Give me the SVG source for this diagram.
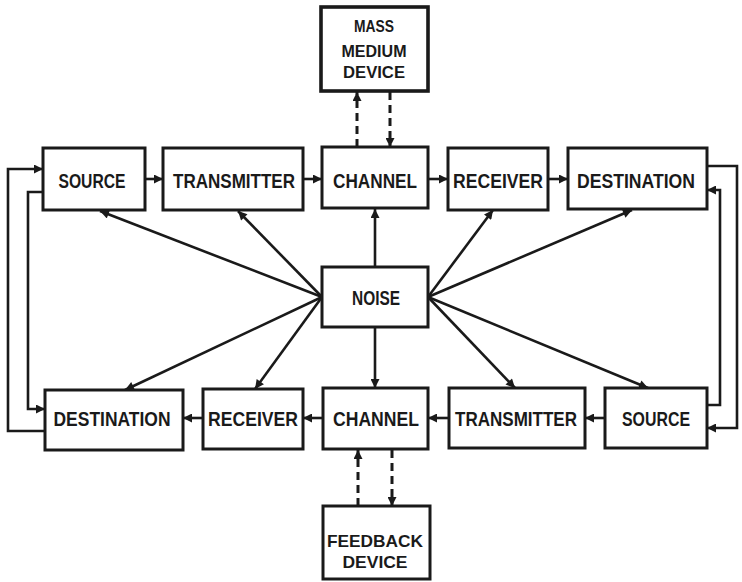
<svg xmlns="http://www.w3.org/2000/svg" width="742" height="582" viewBox="0 0 742 582">
<style>
.box{fill:#fff;stroke:#1a1a1a;stroke-width:3}
.thick{stroke-width:3.6}
.lbl{font-family:"Liberation Sans","DejaVu Sans",Arial,sans-serif;font-weight:bold;font-size:20px;fill:#1a1a1a;text-anchor:middle}
.sm{font-size:17px}
.ln{fill:none;stroke:#1a1a1a;stroke-width:2.6;marker-end:url(#ah)}
.dash{stroke-dasharray:8 5;stroke-width:3}
</style>
<defs>
<marker id="ah" viewBox="0 0 10 10" refX="10" refY="5" markerWidth="10" markerHeight="9" markerUnits="userSpaceOnUse" orient="auto">
<path d="M0,0 L10,5 L0,10 Z" fill="#1a1a1a"/>
</marker>
</defs>
<rect width="742" height="582" fill="#fff"/>
<g id="connectors">
<!-- top row -->
<line class="ln" x1="145" y1="179" x2="163" y2="179"/>
<line class="ln" x1="303" y1="179" x2="322" y2="179"/>
<line class="ln" x1="428" y1="179" x2="448" y2="179"/>
<line class="ln" x1="548" y1="179" x2="568" y2="179"/>
<!-- bottom row -->
<line class="ln" x1="605" y1="418" x2="585" y2="418"/>
<line class="ln" x1="449" y1="418" x2="428" y2="418"/>
<line class="ln" x1="323" y1="418" x2="303" y2="418"/>
<line class="ln" x1="203" y1="418" x2="183" y2="418"/>
<!-- left loops -->
<polyline class="ln" points="45,431 8,431 8,169 43,169"/>
<polyline class="ln" points="43,192 28,192 28,409 45,409"/>
<!-- right loops -->
<polyline class="ln" points="707,166 737,166 737,428 707,428"/>
<polyline class="ln" points="707,405 720,405 720,190 707,190"/>
<!-- noise fan -->
<line class="ln" x1="375" y1="267" x2="375" y2="209"/>
<line class="ln" x1="375" y1="327" x2="375" y2="388"/>
<line class="ln" x1="322" y1="297" x2="100" y2="211"/>
<line class="ln" x1="322" y1="297" x2="238" y2="211"/>
<line class="ln" x1="322" y1="297" x2="125" y2="390"/>
<line class="ln" x1="322" y1="297" x2="255" y2="389"/>
<line class="ln" x1="428" y1="297" x2="493" y2="210"/>
<line class="ln" x1="428" y1="297" x2="632" y2="210"/>
<line class="ln" x1="428" y1="297" x2="515" y2="388"/>
<line class="ln" x1="428" y1="297" x2="648" y2="388"/>
<!-- dashed -->
<line class="ln dash" x1="357" y1="147" x2="357" y2="92"/>
<line class="ln dash" x1="390" y1="92" x2="390" y2="147"/>
<line class="ln dash" x1="358" y1="506" x2="358" y2="450"/>
<line class="ln dash" x1="392" y1="450" x2="392" y2="506"/>
</g>
<g id="mass-medium-device"><rect class="box thick" x="321" y="7" width="107" height="84"/>
<text class="lbl sm" x="374" y="32" textLength="40" lengthAdjust="spacingAndGlyphs">MASS</text>
<text class="lbl sm" x="374" y="57" textLength="65" lengthAdjust="spacingAndGlyphs">MEDIUM</text>
<text class="lbl sm" x="374" y="78" textLength="62" lengthAdjust="spacingAndGlyphs">DEVICE</text></g>
<g id="source-top"><rect class="box" x="43" y="148" width="102" height="62"/><text class="lbl" x="92" y="188" textLength="67" lengthAdjust="spacingAndGlyphs">SOURCE</text></g>
<g id="transmitter-top"><rect class="box" x="163" y="148" width="140" height="62"/><text class="lbl" x="234" y="188" textLength="122" lengthAdjust="spacingAndGlyphs">TRANSMITTER</text></g>
<g id="channel-top"><rect class="box" x="322" y="147" width="106" height="61"/><text class="lbl" x="375" y="188" textLength="84" lengthAdjust="spacingAndGlyphs">CHANNEL</text></g>
<g id="receiver-top"><rect class="box" x="448" y="148" width="100" height="62"/><text class="lbl" x="498" y="188" textLength="90" lengthAdjust="spacingAndGlyphs">RECEIVER</text></g>
<g id="destination-top"><rect class="box" x="568" y="148" width="139" height="61"/><text class="lbl" x="636" y="188" textLength="118" lengthAdjust="spacingAndGlyphs">DESTINATION</text></g>
<g id="noise"><rect class="box" x="322" y="267" width="106" height="60"/><text class="lbl" x="376" y="305" textLength="48" lengthAdjust="spacingAndGlyphs">NOISE</text></g>
<g id="destination-bottom"><rect class="box" x="45" y="390" width="138" height="60"/><text class="lbl" x="112" y="426" textLength="117" lengthAdjust="spacingAndGlyphs">DESTINATION</text></g>
<g id="receiver-bottom"><rect class="box" x="203" y="389" width="100" height="60"/><text class="lbl" x="253" y="426" textLength="90" lengthAdjust="spacingAndGlyphs">RECEIVER</text></g>
<g id="channel-bottom"><rect class="box" x="323" y="388" width="105" height="61"/><text class="lbl" x="376" y="426" textLength="86" lengthAdjust="spacingAndGlyphs">CHANNEL</text></g>
<g id="transmitter-bottom"><rect class="box" x="449" y="388" width="136" height="60"/><text class="lbl" x="516" y="426" textLength="122" lengthAdjust="spacingAndGlyphs">TRANSMITTER</text></g>
<g id="source-bottom"><rect class="box" x="605" y="388" width="102" height="60"/><text class="lbl" x="656" y="426" textLength="68" lengthAdjust="spacingAndGlyphs">SOURCE</text></g>
<g id="feedback-device"><rect class="box" x="323" y="506" width="107" height="73"/>
<text class="lbl sm" x="375" y="547" textLength="96" lengthAdjust="spacingAndGlyphs">FEEDBACK</text>
<text class="lbl sm" x="375" y="568" textLength="65" lengthAdjust="spacingAndGlyphs">DEVICE</text></g>
</svg>
